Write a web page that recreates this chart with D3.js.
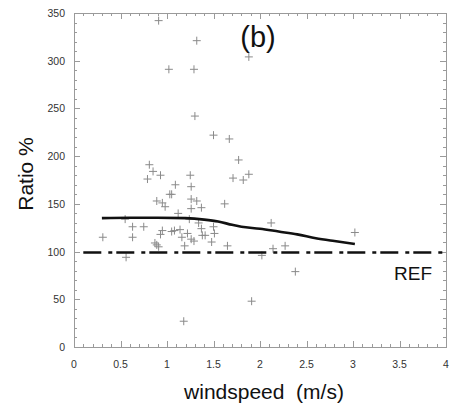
<!DOCTYPE html>
<html>
<head>
<meta charset="utf-8">
<script src="https://cdn.jsdelivr.net/npm/d3@7"></script>
<style>
  body { margin: 0; background: #fff; }
  text { font-family: "Liberation Sans", Arial, sans-serif; white-space: pre; }
</style>
</head>
<body>
<div id="wrapper"></div>
<script>
// scatter points: windspeed (m/s), ratio %
const windspeed = [
  0.91, 1.32, 1.02, 1.29, 1.88, 1.30, 1.50, 1.67, 1.77, 1.71,
  1.82, 1.88, 0.81, 0.85, 0.93, 0.79, 1.25, 1.09, 1.26, 1.03,
  1.05, 1.26, 0.89, 0.95, 1.32, 0.98, 1.26, 1.37, 1.62, 1.12,
  0.55, 1.24, 0.63, 0.75, 0.31, 0.63, 0.93, 0.95, 1.05, 1.08,
  1.14, 1.16, 1.22, 1.26, 1.29, 1.37, 1.38, 1.41, 1.50, 1.51,
  1.48, 0.87, 0.89, 0.91, 1.19, 1.65, 0.56, 2.12, 3.02, 2.14,
  2.27, 2.02, 2.38, 1.91, 1.18, 1.34
]
const ratio = [
  342, 321, 291, 291, 304, 242, 222, 218, 196, 177,
  175, 181, 191, 184, 180, 176, 180, 170, 168, 160,
  160, 155, 153, 151, 153, 147, 145, 146, 150, 140,
  134, 134, 126, 126, 115, 115, 118, 122, 121, 122,
  123, 115, 119, 113, 111, 124, 117, 117, 126, 119,
  110, 109, 107, 105, 106, 106, 94, 130, 120, 103,
  106, 96, 79, 48, 27, 130
]

// fitted curve
const curveX = [0.3, 0.6, 0.9, 1.2, 1.4, 1.55, 1.7, 1.8, 2.0, 2.2, 2.4, 2.6, 2.8, 3.02]
const curveY = [135, 135.5, 135.5, 135, 133.5, 131.5, 128, 126, 124, 121, 118, 114, 111, 108]

const refValue = 99
const xTicks = [0, 0.5, 1, 1.5, 2, 2.5, 3, 3.5, 4]
const yTicks = [0, 50, 100, 150, 200, 250, 300, 350]

const points = windspeed.map((w, i) => ({w, r: ratio[i]}))
const curve = curveX.map((x, i) => ({x, y: curveY[i]}))

let dimensions = {
  width: 450,
  height: 408,
  margin: { top: 13, right: 4, bottom: 61, left: 74 },
}
dimensions.boundedWidth = dimensions.width - dimensions.margin.left - dimensions.margin.right
dimensions.boundedHeight = dimensions.height - dimensions.margin.top - dimensions.margin.bottom

const wrapper = d3.select("#wrapper")
  .append("svg")
    .attr("width", dimensions.width)
    .attr("height", dimensions.height)

const bounds = wrapper.append("g")
    .attr("transform", `translate(${dimensions.margin.left},${dimensions.margin.top})`)

const xScale = d3.scaleLinear().domain([0, 4]).range([0, dimensions.boundedWidth])
const yScale = d3.scaleLinear().domain([0, 350]).range([dimensions.boundedHeight, 0])

const frameColor = "#9a9a9a"

// minor + major ticks, all pointing inward, on all four sides
const xMinor = d3.range(0, 4.0001, 0.1)
const yMinor = d3.range(0, 350.001, 10)
const ticks = bounds.append("g").attr("stroke", frameColor).attr("stroke-width", 1)
xMinor.forEach(v => {
  const major = Math.abs(v * 2 - Math.round(v * 2)) < 1e-6
  const len = major ? 6 : 3
  const x = Math.round(xScale(v)) + 0.5
  ticks.append("line").attr("x1", x).attr("x2", x)
    .attr("y1", dimensions.boundedHeight).attr("y2", dimensions.boundedHeight - len)
  ticks.append("line").attr("x1", x).attr("x2", x)
    .attr("y1", 0).attr("y2", len)
})
yMinor.forEach(v => {
  const major = Math.round(v) % 50 === 0
  const len = major ? 6 : 3
  const y = Math.round(yScale(v)) + 0.5
  ticks.append("line").attr("y1", y).attr("y2", y)
    .attr("x1", 0).attr("x2", len)
  ticks.append("line").attr("y1", y).attr("y2", y)
    .attr("x1", dimensions.boundedWidth).attr("x2", dimensions.boundedWidth - len)
})

bounds.append("rect")
  .attr("x", 0.5).attr("y", 0.5)
  .attr("width", dimensions.boundedWidth).attr("height", dimensions.boundedHeight)
  .attr("fill", "none").attr("stroke", frameColor).attr("stroke-width", 1)

// tick labels
bounds.append("g").selectAll("text")
  .data(xTicks)
  .join("text")
    .attr("x", d => xScale(d))
    .attr("y", dimensions.boundedHeight + 21)
    .attr("text-anchor", "middle")
    .attr("font-size", 10.5)
    .attr("fill", "#333")
    .text(d => d)

bounds.append("g").selectAll("text")
  .data(yTicks)
  .join("text")
    .attr("x", -9)
    .attr("y", d => yScale(d) + 4)
    .attr("text-anchor", "end")
    .attr("font-size", 10.5)
    .attr("fill", "#333")
    .text(d => d)

// scatter crosses
const s = 4
bounds.append("g")
  .selectAll("path")
  .data(points)
  .join("path")
    .attr("d", d => {
      const x = xScale(d.w), y = yScale(d.r)
      return `M${x - s},${y}H${x + s}M${x},${y - s}V${y + s}`
    })
    .attr("stroke", "#8a8a8a")
    .attr("stroke-width", 1)
    .attr("fill", "none")

// reference dash-dot line
bounds.append("line")
  .attr("x1", xScale(0.1)).attr("x2", dimensions.boundedWidth)
  .attr("y1", yScale(refValue)).attr("y2", yScale(refValue))
  .attr("stroke", "#111")
  .attr("stroke-width", 2.6)
  .attr("stroke-dasharray", "18,7,4,4")

// curve
const line = d3.line().x(d => xScale(d.x)).y(d => yScale(d.y)).curve(d3.curveMonotoneX)
bounds.append("path")
  .datum(curve)
  .attr("d", line)
  .attr("fill", "none")
  .attr("stroke", "#111")
  .attr("stroke-width", 2.6)

// labels
bounds.append("text")
  .attr("x", 184).attr("y", 34)
  .attr("text-anchor", "middle")
  .attr("font-size", 29)
  .attr("fill", "#111")
  .text("(b)")

bounds.append("text")
  .attr("x", 320).attr("y", 267)
  .attr("font-size", 19)
  .attr("fill", "#111")
  .text("REF")

wrapper.append("text")
  .attr("x", 264).attr("y", 399)
  .attr("text-anchor", "middle")
  .attr("font-size", 21)
  .attr("fill", "#111")
  .text("windspeed  (m/s)")

wrapper.append("text")
  .attr("transform", "translate(33,174) rotate(-90)")
  .attr("text-anchor", "middle")
  .attr("font-size", 21)
  .attr("fill", "#111")
  .text("Ratio %")
</script>
</body>
</html>
